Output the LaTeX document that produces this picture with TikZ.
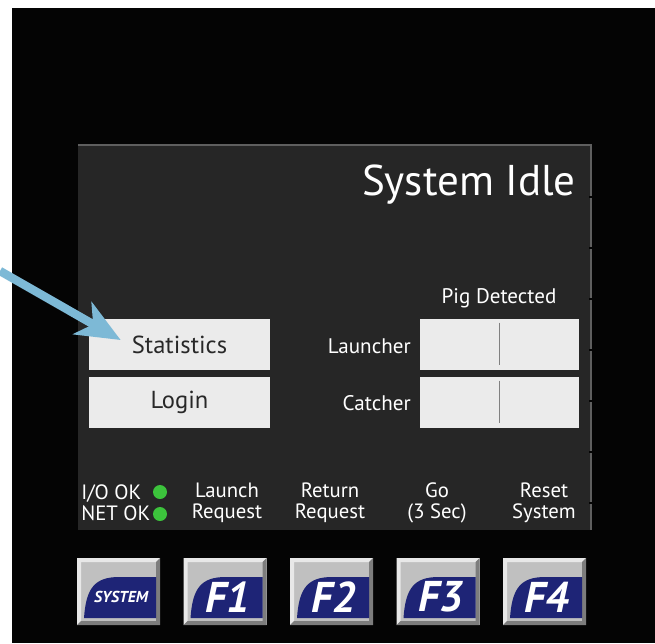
\documentclass[tikz,border=0pt]{standalone}
\usepackage{fontspec}
\setmainfont{PT Sans}
\usetikzlibrary{arrows.meta,calc}
\definecolor{panel}{RGB}{4,4,4}
\definecolor{screen}{RGB}{38,38,38}
\definecolor{screenedge}{RGB}{95,95,95}
\definecolor{btnfill}{RGB}{235,235,235}
\definecolor{btntext}{RGB}{40,40,40}
\definecolor{arrowblue}{RGB}{125,185,214}
\definecolor{ledgreen}{RGB}{60,195,60}
\definecolor{keyblue}{RGB}{30,36,118}
\definecolor{keyface}{RGB}{192,192,192}
\definecolor{keylight}{RGB}{232,232,232}
\definecolor{keydark}{RGB}{125,125,125}
\newcommand\keysmall{\fontsize{9}{10}\selectfont\bfseries\itshape}
\newcommand\keybig{\fontsize{24.5}{26}\selectfont\bfseries\itshape}
\tikzstyle{title}=[text=white, inner sep=0pt, anchor=base east,
                   font=\fontsize{24.5}{28}\selectfont]
\tikzstyle{button}=[rectangle, fill=btnfill, text=btntext,
                    minimum width=3.62cm, minimum height=1.02cm,
                    inner sep=0pt, font=\fontsize{14}{16}\selectfont]
\tikzstyle{pigbox}=[rectangle, fill=btnfill,
                    minimum width=3.18cm, minimum height=1.02cm,
                    inner sep=0pt]
\tikzstyle{divider}=[draw=black!50, line width=1.1pt]
\tikzstyle{caption}=[text=white, inner sep=0pt,
                     font=\fontsize{12}{13}\selectfont]
\tikzstyle{fkey}=[text=white, inner sep=0pt, align=center,
                  font=\fontsize{11.8}{12}\selectfont]
\tikzstyle{led}=[circle, fill=ledgreen, minimum size=0.28cm,
                 inner sep=0pt]
\tikzstyle{keylabel}=[text=white, inner sep=0pt]
\tikzstyle{pointer}=[draw=arrowblue, line width=4.8pt,
                     -{Stealth[length=25pt, width=21pt, inset=7pt]}]

\begin{document}
\begin{tikzpicture}[x=0.02cm, y=-0.02cm]
   \useasboundingbox (0,0) rectangle (655,643);
   \fill[white] (0,0) rectangle (655,643);
   \fill[panel] (12,8) rectangle (655,643);
   \fill[screen] (78,145) rectangle (591,530);
   \draw[screenedge, line width=0.8pt] (78,145) -- (591,145) -- (591,530);
   \foreach \t in {197,248,...,503}
     \draw[panel, line width=0.6pt] (589,\t) -- (593,\t);

   \node (idle) at (576,195) [title] {System Idle};
   \node (stats) at (179.5,344.5) [button] {Statistics};
   \node (login) at (179.5,402.5) [button] {Login};
   \node (lbox) at (499.5,344.5) [pigbox] {};
   \node (cbox) at (499.5,402.5) [pigbox] {};
   \node (pig) at (499,298) [caption] {Pig Detected};
   \node (launcher) at (411,346) [caption, anchor=east] {Launcher};
   \node (catcher) at (411,403) [caption, anchor=east] {Catcher};
   \foreach \b in {lbox,cbox}
     \draw [divider] ($(\b.north)+(0,4)$) -- ($(\b.south)+(0,-5)$);

   % status and soft key captions
   \node (status) at (81,502.5) [fkey, anchor=west, align=left] {I/O OK\\NET OK};
   \node (ioled) at (160,492) [led] {};
   \node (netled) at (160,514) [led] {};
   \foreach \n/\x/\txt in {launch/227/{Launch\\Request},
                           return/330/{Return\\Request},
                           go/437/{Go\\(3 Sec)},
                           reset/544/{Reset\\System}}
     \node (\n) at (\x,502.5) [fkey] {\txt};

   % hard keys
   \foreach \i/\lab/\kfont in {0/SYSTEM/\keysmall, 1/F1/\keybig,
                               2/F2/\keybig, 3/F3/\keybig, 4/F4/\keybig} {
     \pgfmathsetmacro{\kx}{77+106.5*\i}
     \begin{scope}[shift={(\kx,558)}]
       \fill[keyface] (0,0) rectangle (83,67);
       \fill[keylight] (0,0) -- (83,0) -- (79,4) -- (4,4) -- (4,63) -- (0,67) -- cycle;
       \fill[keydark] (83,0) -- (83,67) -- (0,67) -- (4,63) -- (79,63) -- (79,4) -- cycle;
       \fill[keyblue] (7,60) .. controls (9,31) and (17,19) .. (42,19)
                      -- (79,19) -- (79,60) -- cycle;
       \node (key\i) at (44,39) [keylabel, font=\kfont] {\lab};
     \end{scope}
   }

   \coordinate (tail) at (0,271);
   \draw [pointer] (tail) -- ($(stats.west)+(32,-4.5)$);
\end{tikzpicture}
\end{document}
